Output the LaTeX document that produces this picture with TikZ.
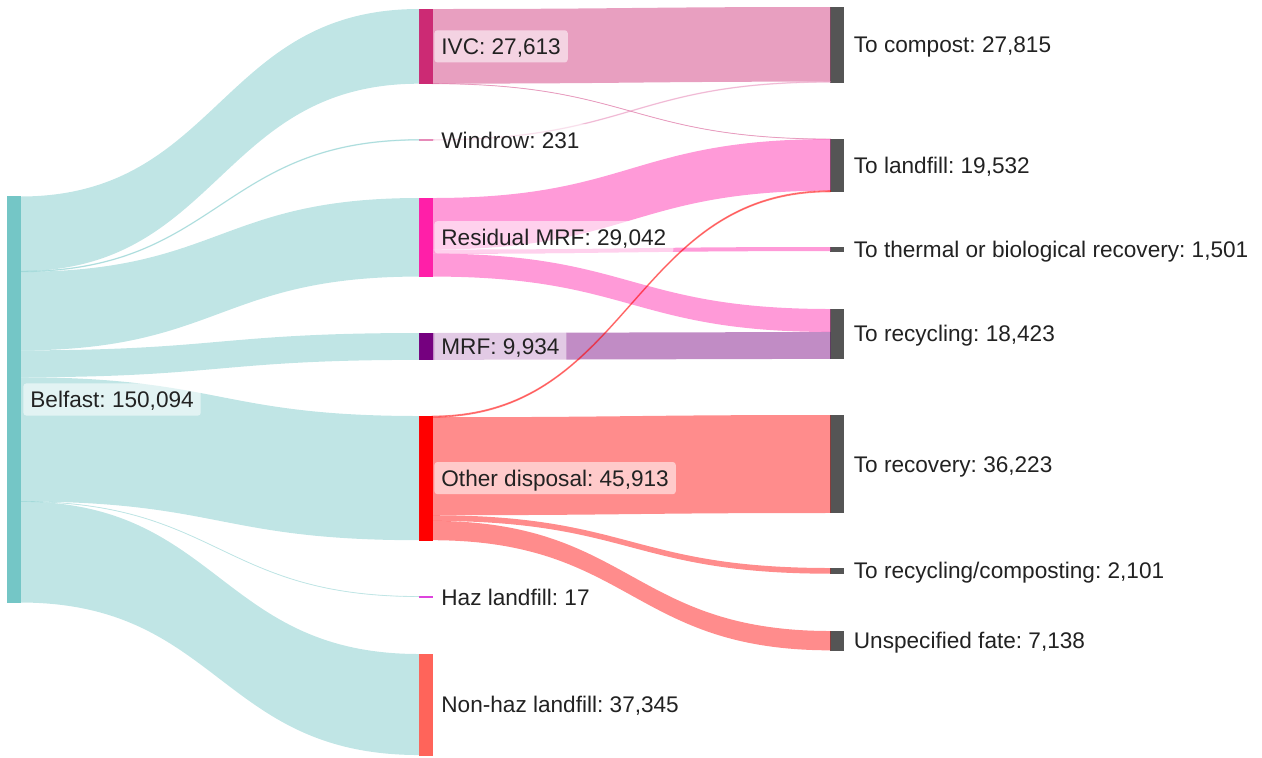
\documentclass[tikz,border=0pt]{standalone}
\usepackage{fontspec}
\setmainfont{Liberation Sans}
\usetikzlibrary{positioning,calc}
\frenchspacing

% colours of the nodes
\definecolor{belfastc}{HTML}{74C6C6}
\definecolor{ivcc}{HTML}{CC2A74}
\definecolor{windrowc}{HTML}{E68AB8}
\definecolor{rmrfc}{HTML}{FF1FA8}
\definecolor{mrfc}{HTML}{75007F}
\definecolor{otherc}{HTML}{FF0000}
\definecolor{hazc}{HTML}{DD44DD}
\definecolor{nonhazc}{HTML}{FF645A}
\definecolor{fatec}{HTML}{555555}
\definecolor{labeltext}{HTML}{222222}

% one thousand tonnes
\newcommand{\flowscale}{1.3525pt}

% band from #1 to #3: offsets #2 and #4, value #5 (all in thousands), style #6
\newcommand{\flow}[6]{%
  \path[#6] let \p1=(#1.north east), \p2=(#3.north west) in
    (\x1,{\y1-#2*\flowscale})
      .. controls ({(\x1+\x2)/2},{\y1-#2*\flowscale}) and ({(\x1+\x2)/2},{\y2-#4*\flowscale})
      .. (\x2,{\y2-#4*\flowscale})
    -- (\x2,{\y2-(#4+#5)*\flowscale})
      .. controls ({(\x1+\x2)/2},{\y2-(#4+#5)*\flowscale}) and ({(\x1+\x2)/2},{\y1-(#2+#5)*\flowscale})
      .. (\x1,{\y1-(#2+#5)*\flowscale})
    -- cycle;}

\begin{document}
\begin{tikzpicture}[
    x=0.5pt, y=-0.5pt,
    bar/.style={rectangle, inner sep=0pt, outer sep=0pt, minimum width=6.5pt,
                anchor=north west, line width=0.5pt},
    tick/.style={bar, minimum height=0.5pt, line width=0.3pt},
    lbl/.style={fill=white, fill opacity=0.55, text opacity=1, text=labeltext,
                rounded corners=1.5pt, inner xsep=3.5pt, inner ysep=2.8pt,
                text height=9.28pt, text depth=1.22pt,
                font=\fontsize{11.3pt}{13pt}\selectfont},
    band/.style={fill=#1, fill opacity=0.45},
    thinband/.style={fill=#1, draw=#1, line width=0.4pt, opacity=0.4}
]
\useasboundingbox (0,0) rectangle (1262,757);

% Nodes
\node[bar, fill=belfastc, draw=belfastc, minimum height=150.094*\flowscale] (belfast) at (7,196.5) {};

\node[bar, fill=ivcc, draw=ivcc, minimum height=27.613*\flowscale] (ivc) at (419,9) {};
\node[tick, fill=windrowc, draw=windrowc] (windrow) at (419,139.5) {};
\node[bar, fill=rmrfc, draw=rmrfc, minimum height=29.042*\flowscale] (rmrf) at (419,198) {};
\node[bar, fill=mrfc, draw=mrfc, minimum height=9.934*\flowscale] (mrf) at (419,333) {};
\node[bar, fill=otherc, draw=otherc, minimum height=45.913*\flowscale] (other) at (419,416) {};
\node[tick, fill=hazc, draw=hazc] (haz) at (419,596.5) {};
\node[bar, fill=nonhazc, draw=nonhazc, minimum height=37.345*\flowscale] (nonhaz) at (419,654) {};

\node[bar, fill=fatec, draw=fatec, minimum height=27.815*\flowscale] (compost) at (830.5,7) {};
\node[bar, fill=fatec, draw=fatec, minimum height=19.532*\flowscale] (landfill) at (830.5,139) {};
\node[bar, fill=fatec, draw=fatec, minimum height=1.501*\flowscale] (thermal) at (830.5,247) {};
\node[bar, fill=fatec, draw=fatec, minimum height=18.423*\flowscale] (recycling) at (830.5,309) {};
\node[bar, fill=fatec, draw=fatec, minimum height=36.223*\flowscale] (recovery) at (830.5,415) {};
\node[bar, fill=fatec, draw=fatec, minimum height=2.101*\flowscale] (reccomp) at (830.5,568) {};
\node[bar, fill=fatec, draw=fatec, minimum height=7.138*\flowscale] (unspec) at (830.5,631) {};

% Flows out of Belfast
\flow{belfast}{0}{ivc}{0}{27.613}{band=belfastc}
\flow{belfast}{27.613}{windrow}{0}{0.231}{thinband=belfastc}
\flow{belfast}{27.844}{rmrf}{0}{29.042}{band=belfastc}
\flow{belfast}{56.886}{mrf}{0}{9.934}{band=belfastc}
\flow{belfast}{66.820}{other}{0}{45.913}{band=belfastc}
\flow{belfast}{112.733}{haz}{0}{0.017}{thinband=belfastc}
\flow{belfast}{112.750}{nonhaz}{0}{37.345}{band=belfastc}

% Flows to the fates
\flow{ivc}{0}{compost}{0}{27.584}{band=ivcc}
\flow{ivc}{27.584}{landfill}{0}{0.029}{thinband=ivcc}
\flow{windrow}{0}{compost}{27.584}{0.231}{thinband=windrowc}
\flow{rmrf}{0}{landfill}{0.029}{19.052}{band=rmrfc}
\flow{rmrf}{19.052}{thermal}{0}{1.501}{band=rmrfc}
\flow{rmrf}{20.553}{recycling}{0}{8.489}{band=rmrfc}
\flow{mrf}{0}{recycling}{8.489}{9.934}{band=mrfc}
\flow{other}{0}{landfill}{19.081}{0.451}{thinband=otherc}
\flow{other}{0.451}{recovery}{0}{36.223}{band=otherc}
\flow{other}{36.674}{reccomp}{0}{2.101}{band=otherc}
\flow{other}{38.775}{unspec}{0}{7.138}{band=otherc}

% Labels
\node[lbl, right=1.5pt of belfast] (belfast-lbl) {Belfast: 150,094};

\node[lbl, right=1pt of ivc] (ivc-lbl) {IVC: 27,613};
\node[lbl, right=1pt of windrow] (windrow-lbl) {Windrow: 231};
\node[lbl, right=1pt of rmrf] (rmrf-lbl) {Residual MRF: 29,042};
\node[lbl, right=1pt of mrf] (mrf-lbl) {MRF: 9,934};
\node[lbl, right=1pt of other] (other-lbl) {Other disposal: 45,913};
\node[lbl, right=1pt of haz] (haz-lbl) {Haz landfill: 17};
\node[lbl, right=1pt of nonhaz] (nonhaz-lbl) {Non-haz landfill: 37,345};

\node[lbl, right=1.5pt of compost] (compost-lbl) {To compost: 27,815};
\node[lbl, right=1.5pt of landfill] (landfill-lbl) {To landfill: 19,532};
\node[lbl, right=1.5pt of thermal] (thermal-lbl) {To thermal or biological recovery: 1,501};
\node[lbl, right=1.5pt of recycling] (recycling-lbl) {To recycling: 18,423};
\node[lbl, right=1.5pt of recovery] (recovery-lbl) {To recovery: 36,223};
\node[lbl, right=1.5pt of reccomp] (reccomp-lbl) {To recycling/composting: 2,101};
\node[lbl, right=1.5pt of unspec] (unspec-lbl) {Unspecified fate: 7,138};

\end{tikzpicture}
\end{document}
